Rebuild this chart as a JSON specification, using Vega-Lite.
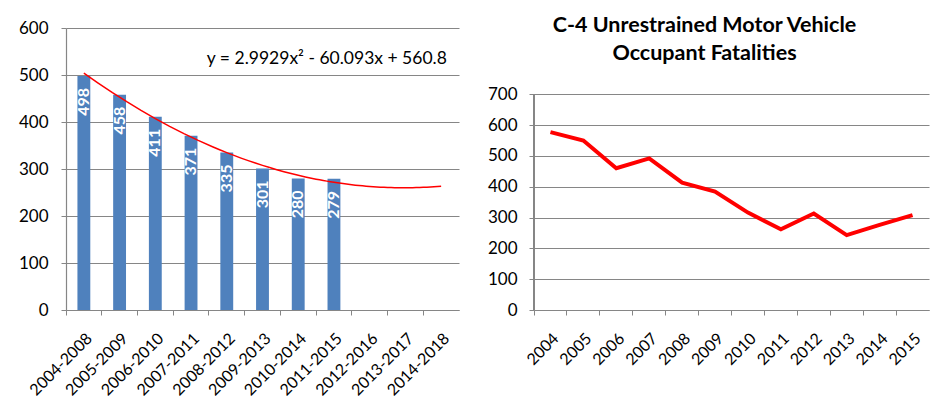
{
  "$schema": "https://vega.github.io/schema/vega-lite/v6.json",
  "background": "white",
  "padding": {"left": 18, "top": 14, "right": 2, "bottom": 2},
  "datasets": {
    "fiveyear": [
      {"period": "2004-2008", "idx": 1, "value": 498},
      {"period": "2005-2009", "idx": 2, "value": 458},
      {"period": "2006-2010", "idx": 3, "value": 411},
      {"period": "2007-2011", "idx": 4, "value": 371},
      {"period": "2008-2012", "idx": 5, "value": 335},
      {"period": "2009-2013", "idx": 6, "value": 301},
      {"period": "2010-2014", "idx": 7, "value": 280},
      {"period": "2011-2015", "idx": 8, "value": 279},
      {"period": "2012-2016", "idx": 9, "value": null},
      {"period": "2013-2017", "idx": 10, "value": null},
      {"period": "2014-2018", "idx": 11, "value": null}
    ],
    "annual": [
      {"year": "2004", "fatalities": 577},
      {"year": "2005", "fatalities": 550},
      {"year": "2006", "fatalities": 460},
      {"year": "2007", "fatalities": 492},
      {"year": "2008", "fatalities": 413},
      {"year": "2009", "fatalities": 384},
      {"year": "2010", "fatalities": 316},
      {"year": "2011", "fatalities": 262},
      {"year": "2012", "fatalities": 313},
      {"year": "2013", "fatalities": 243},
      {"year": "2014", "fatalities": 276},
      {"year": "2015", "fatalities": 308}
    ]
  },
  "config": {
    "view": {"stroke": null},
    "axis": {
      "labelFont": "Lato",
      "labelFontSize": 17,
      "labelColor": "#000000",
      "domainColor": "#868686",
      "tickColor": "#868686",
      "gridColor": "#868686",
      "gridOpacity": 1,
      "domainWidth": 1.2,
      "tickSize": 5
    },
    "title": {"font": "Lato", "color": "#000000"}
  },
  "spacing": 28,
  "hconcat": [
    {
      "width": 393,
      "height": 282,
      "layer": [
        {
          "data": {"name": "fiveyear"},
          "encoding": {
            "x": {
              "field": "period", "type": "nominal", "sort": null, "title": null,
              "scale": {
                "domain": ["2004-2008", "2005-2009", "2006-2010", "2007-2011", "2008-2012", "2009-2013", "2010-2014", "2011-2015", "2012-2016", "2013-2017", "2014-2018"],
                "paddingInner": 0, "paddingOuter": 0
              },
              "axis": {"bandPosition": 0, "labelAngle": -45, "labelFontSize": 16, "labelPadding": 15, "grid": false}
            },
            "y": {
              "field": "value", "type": "quantitative", "title": null,
              "scale": {"domain": [0, 600], "nice": false},
              "axis": {"values": [0, 100, 200, 300, 400, 500, 600], "grid": true, "labelPadding": 13}
            }
          },
          "layer": [
            {"mark": {"type": "bar", "width": {"band": 0.36}, "color": "#4F81BD"}},
            {
              "mark": {"type": "text", "angle": 270, "align": "right", "baseline": "middle", "dx": -12, "color": "white", "fontWeight": "bold", "fontSize": 16, "font": "Lato"},
              "encoding": {"text": {"field": "value", "type": "quantitative"}}
            }
          ]
        },
        {
          "data": {"name": "fiveyear"},
          "transform": [{"regression": "value", "on": "idx", "method": "poly", "order": 2, "extent": [1, 11]}],
          "mark": {"type": "line", "color": "#FF0000", "strokeWidth": 1.5},
          "encoding": {
            "x": {"field": "idx", "type": "quantitative", "scale": {"domain": [0.5, 11.5], "nice": false, "zero": false}, "axis": null},
            "y": {"field": "value", "type": "quantitative", "scale": {"domain": [0, 600], "nice": false}}
          }
        },
        {
          "data": {"values": [{}]},
          "mark": {"type": "text", "text": "y = 2.9929x² - 60.093x + 560.8", "fontSize": 17.5, "font": "Lato", "align": "center", "baseline": "middle", "color": "#000000"},
          "encoding": {
            "x": {"datum": 7.8, "type": "quantitative", "scale": {"domain": [0.5, 11.5], "nice": false, "zero": false}, "axis": null},
            "y": {"datum": 533, "type": "quantitative", "scale": {"domain": [0, 600], "nice": false}}
          }
        }
      ],
      "resolve": {"scale": {"x": "independent"}}
    },
    {
      "width": 395,
      "height": 282,
      "title": {
        "text": ["C-4 Unrestrained Motor Vehicle", "Occupant Fatalities"],
        "fontSize": 21.5, "fontWeight": "bold", "anchor": "middle", "dx": -27, "lineHeight": 28, "offset": -36
      },
      "data": {"name": "annual"},
      "encoding": {
        "x": {
          "field": "year", "type": "ordinal", "title": null,
          "scale": {"type": "band", "paddingInner": 0, "paddingOuter": 0},
          "axis": {"bandPosition": 0, "labelAngle": -45, "labelFontSize": 16, "labelPadding": 15, "grid": false}
        }
      },
      "layer": [
        {
          "mark": {"type": "line", "color": "#FF0000", "strokeWidth": 4},
          "encoding": {
            "x": {"field": "year", "type": "ordinal", "bandPosition": 0.5},
            "y": {
              "field": "fatalities", "type": "quantitative", "title": null,
              "scale": {"domain": [0, 915], "nice": false},
              "axis": {"values": [0, 100, 200, 300, 400, 500, 600, 700], "grid": true, "domain": false, "labelPadding": 12}
            }
          }
        },
        {
          "mark": {"type": "rule", "color": "#868686", "strokeWidth": 1.2},
          "encoding": {
            "x": {"datum": "2004", "type": "ordinal", "bandPosition": 0},
            "y": {"datum": 0, "type": "quantitative"},
            "y2": {"datum": 700}
          }
        }
      ]
    }
  ]
}
